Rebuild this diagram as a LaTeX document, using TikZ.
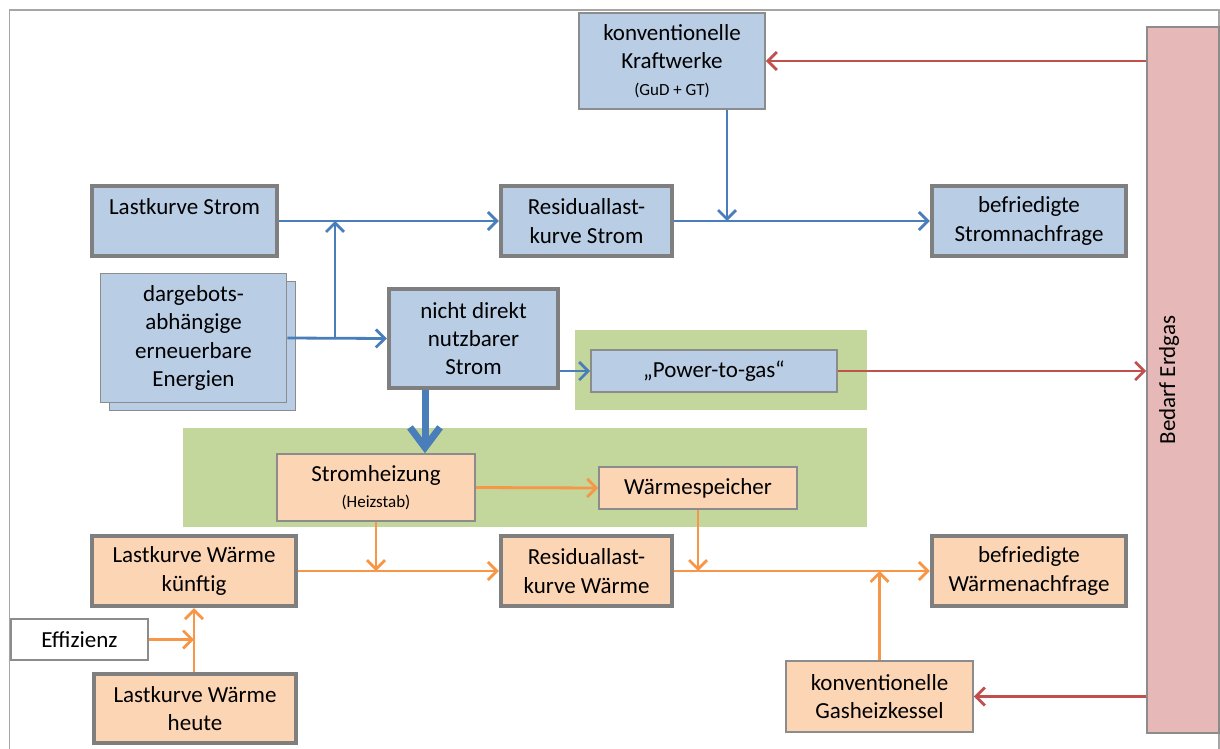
\documentclass[tikz,border=0pt]{standalone}
\usepackage{fontspec}
\setmainfont{Carlito}
\usetikzlibrary{arrows.meta,shadows}
\definecolor{boxblue}{HTML}{B9CDE5}
\definecolor{boxorange}{HTML}{FCD5B5}
\definecolor{areagreen}{HTML}{C3D69B}
\definecolor{barpink}{HTML}{E6B9B8}
\definecolor{edgegray}{HTML}{7F7F7F}
\definecolor{thingray}{HTML}{8C8C8C}
\definecolor{framegray}{HTML}{A6A6A6}
\definecolor{flowblue}{HTML}{4A7EBB}
\definecolor{floworange}{HTML}{F79646}
\definecolor{flowred}{HTML}{C0504D}
\newcommand{\smalltxt}{\fontsize{8.5}{10}\selectfont}
\begin{document}
\begin{tikzpicture}[x=0.5pt, y=-0.5pt,
  every node/.style={align=center, inner sep=0pt, font=\fontsize{11.5}{14.2}\selectfont},
  bluebox/.style={draw=thingray, fill=boxblue, line width=0.8pt},
  bluestrong/.style={bluebox, draw=edgegray, line width=2.2pt},
  orangebox/.style={draw=thingray, fill=boxorange, line width=0.8pt},
  orangestrong/.style={orangebox, draw=edgegray, line width=2.2pt},
  flow/.style={-{Straight Barb[length=4.5pt,width=9pt]}, line width=1.4pt},
  blueflow/.style={flow, draw=flowblue},
  orangeflow/.style={flow, draw=floworange},
  redflow/.style={flow, draw=flowred}]
  \useasboundingbox (0,0) rectangle (1220,749);
  \clip (0,0) rectangle (1220,749);
  \draw[framegray, line width=0.8pt] (9.5,10) rectangle (1219,780);
  % green areas
  \fill[areagreen] (575,330) rectangle (867,410);
  \fill[areagreen] (183,428) rectangle (867,527);
  % gas bar
  \node[draw=thingray, fill=barpink, line width=0.8pt, minimum width=36pt, minimum height=353pt] (bedarf) at (1183,380) {};
  \node[rotate=90] (bedarftext) at (1169,380) {Bedarf Erdgas};
  % electricity
  \node[bluebox, minimum width=93pt, minimum height=48pt] (kraft) at (672,61)
    {konventionelle\\Kraftwerke\\[-1pt]{\smalltxt (GuD + GT)}};
  \node[bluestrong, minimum width=92.5pt, minimum height=35pt] (lastS) at (184.5,221) {Lastkurve Strom\\\mbox{}};
  \node[bluestrong, minimum width=85.5pt, minimum height=35pt] (resS) at (586.5,221) {Residuallast-\\kurve Strom};
  \node[bluestrong, minimum width=97pt, minimum height=35pt] (befS) at (1029,221) {befriedigte\\Stromnachfrage};
  \node[bluebox, minimum width=93pt, minimum height=64.5pt,
    copy shadow={shadow xshift=4.5pt, shadow yshift=-4pt, fill=boxblue, draw=thingray, line width=0.8pt}]
    (darg) at (193.5,338) {dargebots-\\abhängige\\erneuerbare\\Energien};
  \node[bluestrong, minimum width=84.5pt, minimum height=49.5pt] (nicht) at (473.5,338.5) {nicht direkt\\nutzbarer\\Strom};
  \node[bluebox, minimum width=123pt, minimum height=21pt] (p2g) at (714,371) {„Power-to-gas“};
  % heat
  \node[orangebox, minimum width=99pt, minimum height=33.5pt] (heiz) at (376,487.5)
    {Stromheizung\\[-1pt]{\smalltxt (Heizstab)}};
  \node[orangebox, minimum width=99pt, minimum height=21pt] (speicher) at (698,488) {Wärmespeicher};
  \node[orangestrong, minimum width=102pt, minimum height=35pt] (lastWk) at (194,571) {Lastkurve Wärme\\künftig};
  \node[orangestrong, minimum width=85.5pt, minimum height=35pt] (resW) at (586.5,571) {Residuallast-\\kurve Wärme};
  \node[orangestrong, minimum width=97pt, minimum height=35pt] (befW) at (1029,571) {befriedigte\\Wärmenachfrage};
  \node[draw=thingray, fill=white, line width=0.8pt, minimum width=68.5pt, minimum height=20.5pt] (eff) at (79.5,639.5) {Effizienz};
  \node[orangestrong, minimum width=101pt, minimum height=34.5pt] (lastWh) at (195,708.5) {Lastkurve Wärme\\heute};
  \node[orangebox, minimum width=93.5pt, minimum height=35.5pt] (gas) at (879.5,696.5) {konventionelle\\Gasheizkessel};
  % junctions
  \coordinate (jS) at (335,221);
  \coordinate (jE) at (335,338);
  \coordinate (jK) at (727,221);
  \coordinate (jH) at (425,440);
  % blue connectors
  \draw[blueflow] (lastS.east) -- (resS.west);
  \draw[blueflow] (darg.east) -- (nicht.west);
  \draw[blueflow] (jE) -- (jS);
  \draw[blueflow] (jK |- kraft.south) -- (jK);
  \draw[blueflow] (resS.east) -- (befS.west);
  \draw[blueflow] (p2g.west -| nicht.east) -- (p2g.west);
  \draw[flowblue, line width=3.5pt, -{Straight Barb[length=10pt,width=15pt]}] (jH |- nicht.south) -- (jH |- heiz.north);
  % red connectors
  \draw[redflow] (p2g.east) -- (p2g.east -| bedarf.west);
  \draw[redflow] (kraft.east -| bedarf.west) -- (kraft.east);
  \draw[redflow] (gas.east -| bedarf.west) -- (gas.east);
  % orange connectors
  \draw[orangeflow] (heiz.east) -- (speicher.west);
  \draw[orangeflow] (lastWk.east) -- (resW.west);
  \draw[orangeflow] (heiz.south) -- (heiz.south |- lastWk.east);
  \draw[orangeflow] (speicher.south) -- (speicher.south |- resW.east);
  \draw[orangeflow] (resW.east) -- (befW.west);
  \draw[orangeflow] (gas.north) -- (gas.north |- befW.west);
  \draw[orangeflow] (lastWk.south |- lastWh.north) -- (lastWk.south);
  \draw[orangeflow] (eff.east) -- (eff.east -| lastWk.south);
\end{tikzpicture}
\end{document}
